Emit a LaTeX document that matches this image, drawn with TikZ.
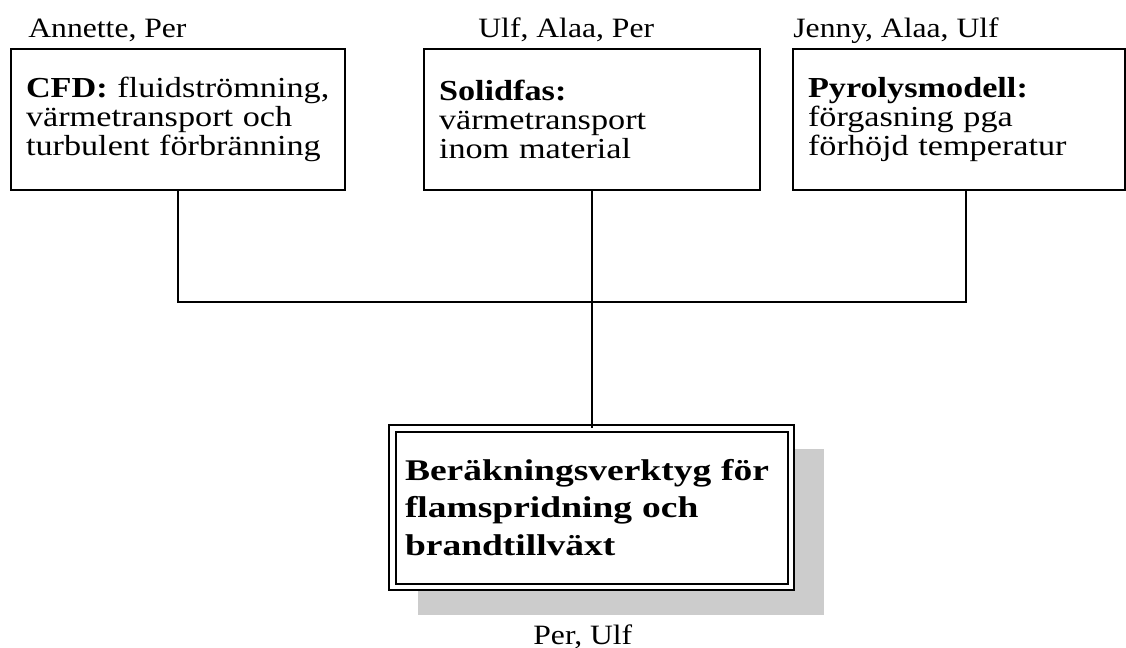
\documentclass[tikz,border=0pt]{standalone}
\usepackage{fontspec}
\setmainfont[FakeStretch=1.13]{Liberation Serif}
\newfontfamily\boxserif[FakeStretch=1.18]{Liberation Serif}
\newfontfamily\wideserif[FakeStretch=1.25]{Liberation Serif}
\usetikzlibrary{backgrounds}
\definecolor{shadowgray}{HTML}{CCCCCC}

\begin{document}
\begin{tikzpicture}[x=0.5pt,y=-0.5pt,
  partbox/.style={draw, line width=1pt, minimum height=70.5pt, inner xsep=7.5pt, inner ysep=0pt,
    outer sep=0pt, align=left, font=\boxserif\fontsize{14.5pt}{14.5pt}\selectfont},
  people/.style={anchor=base west, inner sep=0pt, font=\fontsize{14pt}{14.5pt}\selectfont},
  wire/.style={line width=1pt}]
  \useasboundingbox (0,0) rectangle (1126,648);
  % draw the three part models
  \node[partbox, text width=152pt] (cfd) at (178,119.5) {\textbf{CFD:} fluidströmning,\\värmetransport och\\turbulent förbränning};
  \node[partbox, text width=153pt] (solid) at (592,119.5) {\textbf{Solidfas:}\\värmetransport\\inom material};
  \node[partbox, text width=151pt] (pyro) at (959,119.5) {\textbf{Pyrolysmodell:}\\förgasning pga\\förhöjd temperatur};
  \node[people] (cfdnames) at (28,37.7) {Annette, Per};
  \node[people] (solidnames) at (478,37.7) {Ulf, Alaa, Per};
  \node[people] (pyronames) at (793,37.7) {Jenny, Alaa, Ulf};
  % draw the combined tool with double frame
  \node[draw, double, double distance=2.25pt, line width=1pt, fill=white, outer sep=0pt,
    text width=186.5pt, inner xsep=6.375pt, inner ysep=0pt, minimum height=79.25pt, align=left,
    font=\wideserif\bfseries\fontsize{15pt}{18.75pt}\selectfont] (tool) at (591.5,507.5)
    {Beräkningsverktyg för\\flamspridning och\\brandtillväxt};
  \node[people] (toolnames) at (533,644) {Per, Ulf};
  \begin{scope}[on background layer]
    \fill[shadowgray] ([shift={(25.75,20.75)}]tool.north west) rectangle ([shift={(33.25,28.25)}]tool.south east);
  \end{scope}
  % draw connectors
  \coordinate (bus) at (592,302);
  \coordinate (pyrotap) at ([xshift=3.5pt]pyro.south);
  \draw[wire] (cfd.south) |- (bus) -| (pyrotap);
  \draw[wire] (solid.south) -- (solid.south |- tool.north);
\end{tikzpicture}
\end{document}
